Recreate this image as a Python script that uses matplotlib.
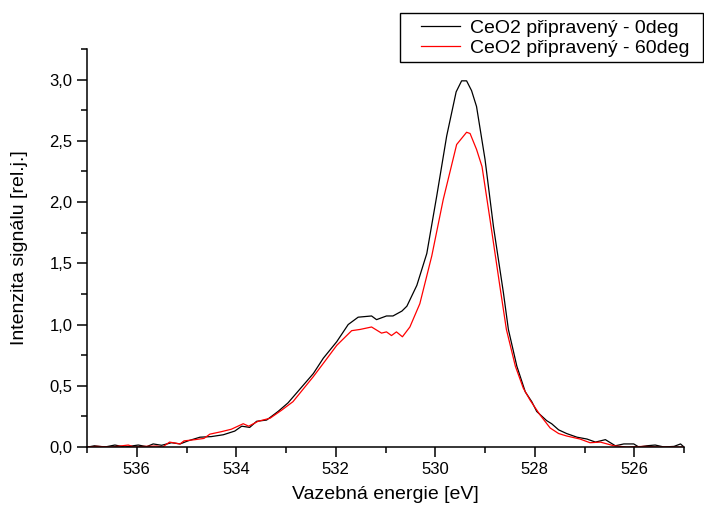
"""O 1s spectrum of prepared CeO2 at two emission angles."""

import matplotlib
matplotlib.use("Agg")
import matplotlib.pyplot as plt
from matplotlib.patches import Rectangle
from matplotlib.ticker import FuncFormatter, MultipleLocator

plt.rcParams["font.family"] = ["Liberation Sans", "DejaVu Sans"]

# binding energy [eV] / relative intensity, 0 deg emission
energy_0deg = [537.0, 536.98, 536.85, 536.64, 536.44, 536.24, 535.97, 535.80,
               535.67, 535.50, 535.30, 535.13, 534.97, 534.73, 534.50, 534.26,
               534.03, 533.89, 533.73, 533.59, 533.39, 533.16, 532.96, 532.79,
               532.45, 532.25, 531.98, 531.75, 531.55, 531.28, 531.18, 530.98,
               530.85, 530.67, 530.57, 530.37, 530.17, 529.97, 529.77, 529.58,
               529.47, 529.37, 529.27, 529.17, 529.00, 528.83, 528.63, 528.53,
               528.36, 528.19, 528.06, 527.96, 527.76, 527.66, 527.52, 527.36,
               527.15, 526.95, 526.78, 526.58, 526.38, 526.21, 526.01, 525.91,
               525.75, 525.58, 525.40, 525.20, 525.07, 525.0]
intensity_0deg = [0.0, 0.0, 0.01, 0.0, 0.016, 0.0, 0.016, 0.003,
                  0.025, 0.014, 0.035, 0.025, 0.05, 0.08, 0.085, 0.10,
                  0.13, 0.17, 0.16, 0.21, 0.22, 0.29, 0.36, 0.44,
                  0.60, 0.725, 0.86, 1.00, 1.06, 1.07, 1.04, 1.07,
                  1.07, 1.11, 1.15, 1.32, 1.58, 2.05, 2.54, 2.90,
                  2.99, 2.99, 2.91, 2.78, 2.35, 1.80, 1.26, 0.96,
                  0.66, 0.45, 0.37, 0.29, 0.215, 0.19, 0.14, 0.11,
                  0.08, 0.065, 0.04, 0.06, 0.01, 0.025, 0.025, 0.0,
                  0.01, 0.016, 0.0, 0.005, 0.025, 0.0]

# same sample, 60 deg emission
energy_60deg = [537.0, 536.8, 536.5, 536.17, 536.05, 535.85, 535.60, 535.48,
                535.34, 535.13, 535.05, 534.83, 534.65, 534.53, 534.30, 534.10,
                533.86, 533.75, 533.56, 533.32, 533.09, 532.86, 532.45, 532.20,
                531.98, 531.68, 531.51, 531.28, 531.08, 530.98, 530.88, 530.78,
                530.66, 530.51, 530.31, 530.07, 529.84, 529.57, 529.37, 529.30,
                529.17, 529.06, 528.90, 528.70, 528.57, 528.39, 528.23, 528.09,
                527.89, 527.69, 527.52, 527.36, 527.09, 526.89, 526.68, 526.41,
                526.15, 525.80, 525.50, 525.0]
intensity_60deg = [0.0, 0.005, 0.0, 0.016, 0.0, 0.005, 0.008, 0.0,
                   0.04, 0.025, 0.05, 0.06, 0.07, 0.105, 0.125, 0.145,
                   0.19, 0.17, 0.21, 0.235, 0.30, 0.37, 0.575, 0.71,
                   0.83, 0.95, 0.96, 0.98, 0.93, 0.94, 0.91, 0.94,
                   0.90, 0.98, 1.17, 1.56, 2.02, 2.47, 2.57, 2.56,
                   2.43, 2.29, 1.86, 1.31, 0.96, 0.66, 0.48, 0.38,
                   0.26, 0.155, 0.11, 0.09, 0.065, 0.035, 0.04, 0.01,
                   0.0, 0.005, 0.0, 0.0]

labels = ["CeO2 připravený - 0deg", "CeO2 připravený - 60deg"]

W, H = 704, 509
fig = plt.figure(figsize=(W / 100, H / 100), dpi=100)
ax = fig.add_axes([87 / W, 1 - 447 / H, (684 - 87) / W, (447 - 49) / H])

ax.plot(energy_0deg, intensity_0deg, color="black", lw=0.9, label=labels[0])
ax.plot(energy_60deg, intensity_60deg, color="red", lw=0.9, label=labels[1])

ax.set_xlim(537, 525)
ax.set_ylim(0, 3.25)
ax.xaxis.set_major_locator(MultipleLocator(2))
ax.xaxis.set_minor_locator(MultipleLocator(1))
ax.yaxis.set_major_locator(MultipleLocator(0.5))
ax.yaxis.set_minor_locator(MultipleLocator(0.25))
ax.xaxis.set_major_formatter(FuncFormatter(lambda v, p: f"{v:.0f}"))
ax.yaxis.set_major_formatter(FuncFormatter(lambda v, p: f"{v:.1f}".replace(".", ",")))

for side in ("top", "right"):
    ax.spines[side].set_visible(False)
for side in ("left", "bottom"):
    ax.spines[side].set_linewidth(1.1)
ax.tick_params(which="major", direction="out", length=7.5, width=1.1, labelsize=12)
ax.tick_params(which="minor", direction="out", length=4.5, width=1.1)
ax.tick_params(axis="x", pad=3)
ax.tick_params(axis="y", pad=3)

ax.set_xlabel("Vazebná energie [eV]", fontsize=14, labelpad=7)
ax.set_ylabel("Intenzita signálu [rel.j.]", fontsize=14, labelpad=15)

# legend entries without the default frame, boxed separately
leg = fig.legend(loc="upper left", bbox_to_anchor=(421 / W, 1 - 19 / H),
                 fontsize=14, frameon=False, handlelength=2.0,
                 handletextpad=0.5, labelspacing=0.12, borderpad=0,
                 borderaxespad=0)
fig.patches.append(Rectangle((400 / W, 1 - 62 / H), (703 - 400) / W, 49 / H,
                             transform=fig.transFigure, fill=False,
                             edgecolor="black", lw=1.0))

fig.savefig("out.png", dpi=100)
